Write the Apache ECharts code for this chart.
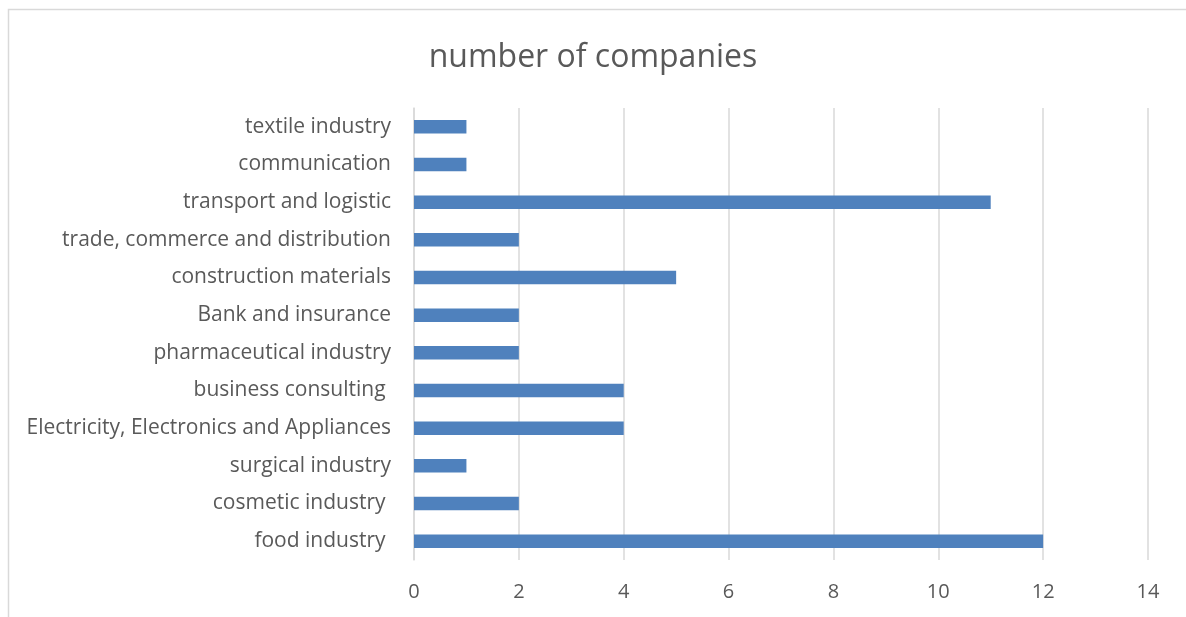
<!DOCTYPE html>
<html>
<head>
<meta charset="utf-8">
<script src="https://cdn.jsdelivr.net/npm/echarts@6/dist/echarts.min.js"></script>
<style>
html,body{margin:0;padding:0;background:#fff;}
#chart{width:1186px;height:617px;}
</style>
</head>
<body>
<div id="chart"></div>
<script>
const titleText = 'number of companies';
const categories = [
  'food industry ',
  'cosmetic industry ',
  'surgical industry',
  'Electricity, Electronics and Appliances',
  'business consulting ',
  'pharmaceutical industry',
  'Bank and insurance',
  'construction materials',
  'trade, commerce and distribution',
  'transport and logistic',
  'communication',
  'textile industry'
];
const companies = [12, 2, 1, 4, 4, 2, 2, 5, 2, 11, 1, 1];
const xMin = 0, xMax = 14, xStep = 2;

const chart = echarts.init(document.getElementById('chart'), null, {renderer: 'canvas'});
const font = '"Open Sans", "Noto Sans", sans-serif';
chart.setOption({
  animation: false,
  backgroundColor: '#ffffff',
  graphic: [{
    type: 'rect',
    shape: {x: 8.5, y: 9.5, width: 1300, height: 700},
    style: {fill: 'none', stroke: '#d9d9d9', lineWidth: 1.5},
    silent: true
  }],
  title: {
    text: titleText,
    left: 'center',
    top: 37,
    textStyle: {fontFamily: font, fontSize: 32, fontWeight: 'normal', color: '#595959'}
  },
  grid: {left: 414, right: 38, top: 108, bottom: 57, containLabel: false},
  xAxis: {
    type: 'value',
    min: xMin, max: xMax, interval: xStep,
    axisLine: {show: false},
    axisTick: {show: false},
    splitLine: {show: true, lineStyle: {color: '#d9d9d9', width: 1.5}},
    axisLabel: {fontFamily: font, fontSize: 20, color: '#595959', margin: 22}
  },
  yAxis: {
    type: 'category',
    data: categories,
    axisLine: {show: true, lineStyle: {color: '#d9d9d9', width: 1.5}},
    axisTick: {show: false},
    splitLine: {show: false},
    axisLabel: {fontFamily: font, fontSize: 21, color: '#595959', margin: 23, padding: [4, 0, 0, 0]}
  },
  series: [{
    type: 'bar',
    data: companies,
    barWidth: '36%',
    itemStyle: {color: '#4f81bd'},
    silent: true
  }]
});
</script>
</body>
</html>
